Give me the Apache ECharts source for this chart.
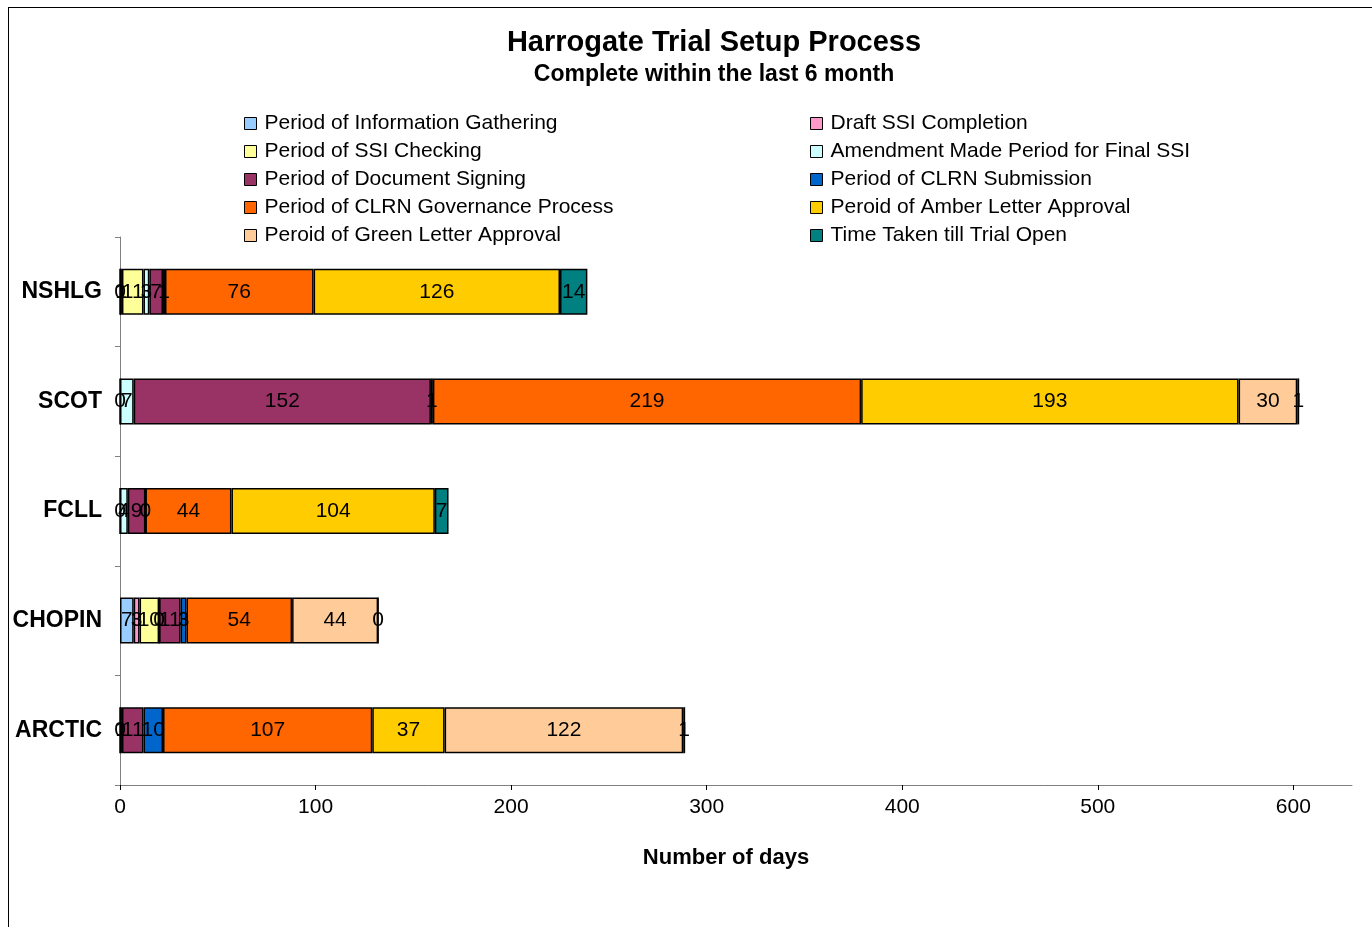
<!DOCTYPE html>
<html>
<head>
<meta charset="utf-8">
<script src="https://cdn.jsdelivr.net/npm/echarts@6/dist/echarts.min.js"></script>
<style>
  html, body { margin: 0; padding: 0; background: #fff; }
  #frame { position: absolute; left: 8px; top: 7px; width: 1400px; height: 960px; border-left: 1px solid #000; border-top: 1px solid #000; }
  #chart { position: absolute; left: 0; top: 0; width: 1372px; height: 927px; }
</style>
</head>
<body>
<div id="frame"></div>
<div id="chart"></div>
<script>
// categories top to bottom
const categories = ['NSHLG', 'SCOT', 'FCLL', 'CHOPIN', 'ARCTIC'];

// days per stage, one value per category (null = no segment / no label)
const infoGathering   = [0,    0,    0,    7,    0];
const draftSSI        = [1,    null, null, 3,    1];
const ssiChecking     = [11,   null, null, 10,   null];
const amendment       = [3,    7,    4,    0,    null];
const docSigning      = [7,    152,  9,    11,   11];
const clrnSubmission  = [1,    1,    0,    3,    10];
const clrnGovernance  = [76,   219,  44,   54,   107];
const amberLetter     = [126,  193,  104,  null, 37];
const greenLetter     = [null, 30,   null, 44,   122];
const trialOpen       = [14,   1,    7,    0,    1];

const xTicks = { min: 0, max: 630, interval: 100 };

const stages = [
  { name: 'Period of Information Gathering', data: infoGathering, color: '#99CCFF' },
  { name: 'Draft SSI Completion', data: draftSSI, color: '#FF99CC' },
  { name: 'Period of SSI Checking', data: ssiChecking, color: '#FFFF99' },
  { name: 'Amendment Made Period for Final SSI', data: amendment, color: '#CCFFFF' },
  { name: 'Period of Document Signing', data: docSigning, color: '#993366' },
  { name: 'Period of CLRN Submission', data: clrnSubmission, color: '#0066CC' },
  { name: 'Period of CLRN Governance Process', data: clrnGovernance, color: '#FF6600' },
  { name: 'Peroid of Amber Letter Approval', data: amberLetter, color: '#FFCC00' },
  { name: 'Peroid of Green Letter Approval', data: greenLetter, color: '#FFCC99' },
  { name: 'Time Taken till Trial Open', data: trialOpen, color: '#008080' }
];

const font = 'Liberation Sans, Arial, sans-serif';

const chart = echarts.init(document.getElementById('chart'));

const legendCommon = {
  orient: 'vertical',
  top: 108,
  itemWidth: 12,
  itemHeight: 12,
  itemGap: 7,
  icon: 'rect',
  itemStyle: { borderColor: '#000', borderWidth: 1 },
  textStyle: { fontFamily: font, fontSize: 21, color: '#000', padding: [0, 0, 0, 3] },
  selectedMode: false
};

const option = {
  animation: false,
  backgroundColor: 'transparent',
  title: {
    text: 'Harrogate Trial Setup Process',
    subtext: 'Complete within the last 6 month',
    left: 709,
    textAlign: 'center',
    top: 23,
    itemGap: 6,
    textStyle: { fontFamily: font, fontSize: 29, fontWeight: 'bold', color: '#000' },
    subtextStyle: { fontFamily: font, fontSize: 23, fontWeight: 'bold', color: '#000' }
  },
  legend: [
    Object.assign({}, legendCommon, {
      left: 239,
      data: stages.filter((s, i) => i % 2 === 0).map(s => s.name)
    }),
    Object.assign({}, legendCommon, {
      left: 805,
      data: stages.filter((s, i) => i % 2 === 1).map(s => s.name)
    })
  ],
  grid: { left: 120, right: 20, top: 237, bottom: 142 },
  xAxis: {
    type: 'value',
    min: xTicks.min,
    max: xTicks.max,
    interval: xTicks.interval,
    name: 'Number of days',
    nameLocation: 'middle',
    nameGap: 62,
    nameTextStyle: { fontFamily: font, fontSize: 22, fontWeight: 'bold', color: '#000', padding: [0, 20, 0, 0] },
    splitLine: { show: false },
    axisLine: { show: true, lineStyle: { color: '#808080' } },
    axisTick: { show: true, length: 5, lineStyle: { color: '#000' } },
    axisLabel: { fontFamily: font, fontSize: 21, color: '#000', margin: 12, showMaxLabel: false }
  },
  yAxis: {
    type: 'category',
    inverse: true,
    data: categories,
    axisLine: { show: true, lineStyle: { color: '#808080' } },
    axisTick: { show: true, length: 5, lineStyle: { color: '#808080' } },
    axisLabel: { fontFamily: font, fontSize: 23, fontWeight: 'bold', color: '#000', margin: 18 }
  },
  series: stages.map(s => ({
    name: s.name,
    type: 'bar',
    stack: 'days',
    barWidth: 46,
    data: s.data,
    itemStyle: { color: s.color, borderColor: '#000', borderWidth: 1.5 },
    label: {
      show: true,
      position: 'inside',
      fontFamily: font,
      fontSize: 21,
      color: '#000',
      formatter: p => (p.value === null || p.value === undefined ? '' : String(p.value))
    },
    labelLayout: { hideOverlap: false }
  }))
};

chart.setOption(option);
</script>
</body>
</html>
